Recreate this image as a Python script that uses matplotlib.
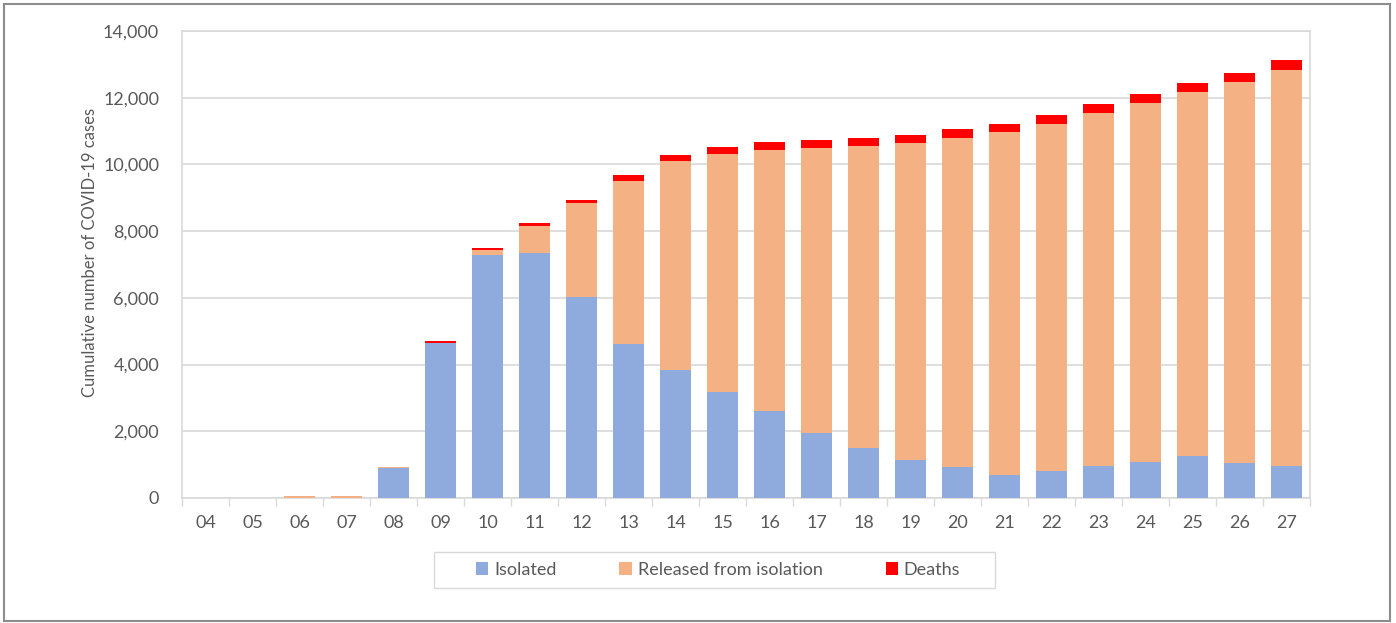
import matplotlib
matplotlib.use("Agg")
import matplotlib.pyplot as plt
from matplotlib.patches import Rectangle

categories = ["04", "05", "06", "07", "08", "09", "10", "11", "12", "13", "14", "15",
              "16", "17", "18", "19", "20", "21", "22", "23", "24", "25", "26", "27"]
isolated = [0, 0, 0, 0, 890, 4640, 7290, 7350, 6030, 4625, 3837, 3168,
            2608, 1948, 1489, 1129, 919, 689, 799, 969, 1089, 1259, 1049, 969]
released = [0, 0, 50, 50, 30, 20, 135, 800, 2810, 4887, 6256, 7153,
            7813, 8543, 9072, 9522, 9872, 10271, 10421, 10581, 10761, 10921, 11421, 11871]
deaths = [0, 0, 0, 0, 10, 40, 60, 100, 100, 160, 180, 210,
          240, 230, 230, 240, 270, 260, 261, 270, 270, 270, 270, 290]
yticks = [0, 2000, 4000, 6000, 8000, 10000, 12000, 14000]

plt.rcParams['font.family'] = ['Lato', 'DejaVu Sans']
text_color = "#595959"
grid_color = "#d9d9d9"

fig = plt.figure(figsize=(13.96, 6.23), dpi=100)
ax = fig.add_axes([182/1396, 1 - 498/623, (1310-182)/1396, (498-31)/623])

x = list(range(len(categories)))
w = 0.66
c_iso, c_rel, c_d = "#8FAADC", "#F4B183", "#FF0000"
b1 = ax.bar(x, isolated, w, color=c_iso, linewidth=0, label="Isolated", zorder=3)
bottom2 = isolated
b2 = ax.bar(x, released, w, bottom=bottom2, color=c_rel, linewidth=0,
            label="Released from isolation", zorder=3)
bottom3 = [a + b for a, b in zip(isolated, released)]
b3 = ax.bar(x, deaths, w, bottom=bottom3, color=c_d, linewidth=0,
            label="Deaths", zorder=3)

ax.set_xlim(-0.5, len(categories) - 0.5)
ax.set_ylim(0, 14000)
ax.set_yticks(yticks)
ax.set_yticklabels([f"{v:,}" for v in yticks])
ax.yaxis.grid(True, color=grid_color, linewidth=1.2, zorder=0)
ax.set_axisbelow(True)
ax.tick_params(axis='y', length=0, pad=16.5, labelsize=13, labelcolor=text_color)

ax.set_xticks(x)
ax.set_xticklabels(categories)
ax.tick_params(axis='x', which='major', length=0, pad=12, labelsize=13, labelcolor=text_color)
ax.set_xticks([i - 0.5 for i in range(len(categories) + 1)], minor=True)
ax.tick_params(axis='x', which='minor', length=6, color=grid_color, width=1)

for s in ax.spines.values():
    s.set_color(grid_color)
    s.set_linewidth(1.2)

ax.set_ylabel("Cumulative number of COVID-19 cases", fontsize=12, color=text_color)
ax.yaxis.set_label_coords((90 - 182) / 1128, (498 - 252) / 467)
ax.yaxis.label.set_verticalalignment("center")

# legend box frame (reference draws a wide, padded box)
fig.patches.append(Rectangle((434/1396, 1 - 588/623), (995-434)/1396, (588-552)/623,
                             transform=fig.transFigure, fill=False, edgecolor=grid_color,
                             linewidth=1.0))
leg = fig.legend(handles=[b1, b2, b3], loc="center", bbox_to_anchor=(718/1396, 1 - 570/623),
                 ncol=3, frameon=False, fontsize=13, handlelength=0.7,
                 handleheight=0.7, columnspacing=3.5, handletextpad=0.3, borderpad=0.5,
                 borderaxespad=0)
for t in leg.get_texts():
    t.set_color(text_color)

fig.patches.append(Rectangle((4/1396, 2/623), (1390-4)/1396, (619-2)/623, transform=fig.transFigure,
                             fill=False, edgecolor="#8c8c8c", linewidth=1.5))

fig.savefig("out.png", dpi=100)
